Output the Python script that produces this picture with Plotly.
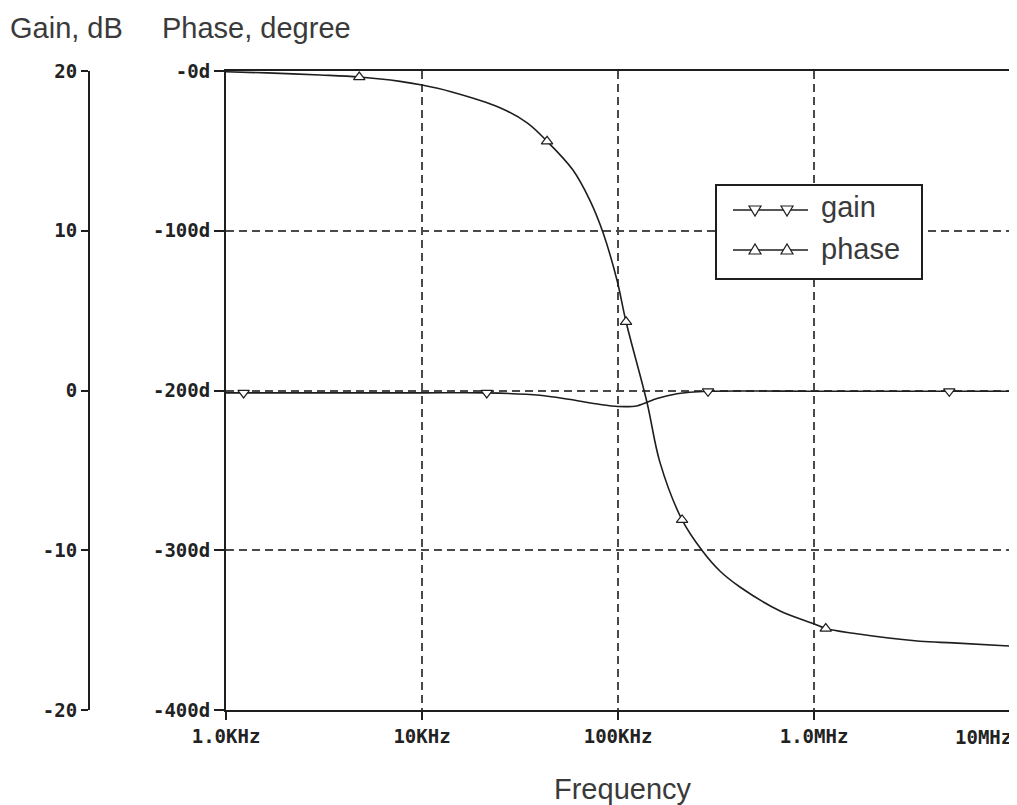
import plotly.graph_objects as go

# ---------------- data ----------------
phase_freq = [1000, 1622, 3020, 4786, 7727, 10000, 13900, 25000, 34400, 43450,
              58900, 71900, 83750, 98850, 109900, 140600, 163700, 212300,
              271600, 331000, 418800, 671400, 1000000, 1148000, 1585000,
              3467000, 5130000, 10000000]
phase_deg = [-0.5, -1.2, -2.5, -3.8, -6.5, -8.8, -12.8, -23, -32.5, -44,
             -62, -81, -101, -131, -157, -207.5, -245, -281,
             -301, -313, -323, -338, -346, -349, -352,
             -357, -358, -360]
phase_marker_idx = [3, 9, 14, 17, 23]

gain_freq = [1000, 1230, 10000, 21400, 40000, 56000, 79000, 100000, 126000,
             158000, 200000, 288000, 1000000, 4900000, 10000000]
gain_db = [-0.15, -0.15, -0.15, -0.15, -0.3, -0.55, -0.85, -1.0, -0.95,
           -0.5, -0.2, -0.05, -0.05, -0.05, -0.05]
gain_marker_idx = [1, 3, 11, 13]

x_tickvals = [1e3, 1e4, 1e5, 1e6, 1e7]
x_ticktext = ["1.0KHz", "10KHz", "100KHz", "1.0MHz", "10MHz"]
phase_tickvals = [0, -100, -200, -300, -400]
phase_ticktext = ["-0d", "-100d", "-200d", "-300d", "-400d"]
gain_tickvals = [20, 10, 0, -10, -20]
gain_ticktext = ["20", "10", "0", "-10", "-20"]

# ---------------- layout helpers ----------------
# the page body has an 8px margin, so the figure starts at (8, 8) in the window
OFF = 8
W, H = 1017 - OFF, 805 - OFF
ML, MR, MT, MB = 12, 7, 63, 95
PW, PH = W - ML - MR, H - MT - MB


def px(x):
    """window x pixel -> paper fraction"""
    return (x - OFF - ML) / PW


def py(y):
    """window y pixel -> paper fraction"""
    return (H - MB - (y - OFF)) / PH


INK = "#1e1e1e"
GRID = "#4a4a4a"
TXT = "#3a3a3a"
TFONT = "Liberation Sans"
tickfont = dict(family="DejaVu Sans Mono", size=19, color="#222", weight="bold")

fig = go.Figure()

fig.add_trace(go.Scatter(x=phase_freq, y=phase_deg, mode="lines",
                         line=dict(color=INK, width=1.6, shape="spline", smoothing=1.0),
                         yaxis="y", showlegend=False, hoverinfo="skip"))
fig.add_trace(go.Scatter(x=[phase_freq[i] for i in phase_marker_idx],
                         y=[phase_deg[i] for i in phase_marker_idx], mode="markers",
                         marker=dict(symbol="triangle-up", size=10, color="white",
                                     line=dict(color=INK, width=1.2)),
                         yaxis="y", showlegend=False))
fig.add_trace(go.Scatter(x=gain_freq, y=gain_db, mode="lines",
                         line=dict(color=INK, width=1.6, shape="spline", smoothing=0.8),
                         yaxis="y2", showlegend=False, hoverinfo="skip"))
fig.add_trace(go.Scatter(x=[gain_freq[i] for i in gain_marker_idx],
                         y=[gain_db[i] for i in gain_marker_idx], mode="markers",
                         marker=dict(symbol="triangle-down", size=10, color="white",
                                     line=dict(color=INK, width=1.2)),
                         yaxis="y2", showlegend=False))

x0 = px(226)
xt_shown = x_ticktext[:-1] + [""]
fig.update_layout(
    width=W, height=H,
    margin=dict(l=ML, r=MR, t=MT, b=MB, autoexpand=False),
    paper_bgcolor="white", plot_bgcolor="white",
    xaxis=dict(type="log", range=[3, 7], domain=[x0, 1], automargin=False,
               tickvals=x_tickvals, ticktext=xt_shown, tickfont=tickfont,
               ticks="outside", ticklen=8, tickcolor=INK, tickwidth=1.5,
               showline=True, linecolor=INK, linewidth=2, mirror=True,
               showgrid=True, gridcolor=GRID, griddash="8px,5px", gridwidth=1.5,
               zeroline=False, anchor="y"),
    yaxis=dict(range=[-400, 0], tickvals=phase_tickvals, ticktext=phase_ticktext,
               tickfont=tickfont, ticks="outside", ticklen=10, tickcolor=INK,
               tickwidth=1.5, showline=True, linecolor=INK, linewidth=2, mirror=True,
               showgrid=True, gridcolor=GRID, griddash="8px,5px", gridwidth=1.5,
               zeroline=False, anchor="x", automargin=False),
    yaxis2=dict(range=[-20, 20], tickvals=gain_tickvals, ticktext=gain_ticktext,
                tickfont=tickfont, ticks="outside", ticklen=7, tickcolor=INK,
                tickwidth=1.5, showline=True, linecolor=INK, linewidth=2,
                showgrid=False, zeroline=False, overlaying="y", anchor="free",
                side="left", position=px(89), automargin=False),
    showlegend=False,
)

# last x tick label kept inside the page
fig.add_annotation(text=x_ticktext[-1], x=px(1014), y=py(737), xref="paper", yref="paper",
                   xanchor="right", yanchor="middle", showarrow=False, font=tickfont)

# axis titles
fig.add_annotation(text="Gain, dB", x=px(8), y=py(28), xref="paper", yref="paper",
                   xanchor="left", yanchor="middle", showarrow=False,
                   font=dict(family=TFONT, size=29, color=TXT))
fig.add_annotation(text="Phase, degree", x=px(160), y=py(28), xref="paper", yref="paper",
                   xanchor="left", yanchor="middle", showarrow=False,
                   font=dict(family=TFONT, size=29, color=TXT))
fig.add_annotation(text="Frequency", x=px(623), y=py(789), xref="paper", yref="paper",
                   xanchor="center", yanchor="middle", showarrow=False,
                   font=dict(family=TFONT, size=29, color=TXT))

# custom legend box
fig.add_shape(type="rect", xref="paper", yref="paper", x0=px(716), x1=px(922),
              y0=py(279), y1=py(185), line=dict(color=INK, width=2), fillcolor="white",
              layer="above")
for yy in (210, 250):
    fig.add_shape(type="line", xref="paper", yref="paper", x0=px(733), x1=px(808),
                  y0=py(yy), y1=py(yy), line=dict(color=INK, width=1.6), layer="above")
for cx in (755, 787):
    fig.add_shape(type="path", xref="paper", yref="paper", xsizemode="pixel",
                  ysizemode="pixel", xanchor=px(cx), yanchor=py(210),
                  path="M-6,4 L6,4 L0,-6 Z", fillcolor="white",
                  line=dict(color=INK, width=1.2), layer="above")
    fig.add_shape(type="path", xref="paper", yref="paper", xsizemode="pixel",
                  ysizemode="pixel", xanchor=px(cx), yanchor=py(250),
                  path="M-6,-4 L6,-4 L0,6 Z", fillcolor="white",
                  line=dict(color=INK, width=1.2), layer="above")
fig.add_annotation(text="gain", x=px(819), y=py(207), xref="paper", yref="paper",
                   xanchor="left", yanchor="middle", showarrow=False,
                   font=dict(family=TFONT, size=29, color=TXT))
fig.add_annotation(text="phase", x=px(819), y=py(249), xref="paper", yref="paper",
                   xanchor="left", yanchor="middle", showarrow=False,
                   font=dict(family=TFONT, size=29, color=TXT))

fig.write_html("out.html")
